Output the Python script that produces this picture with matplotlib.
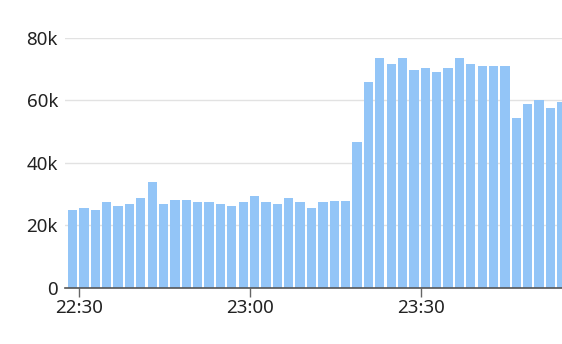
import matplotlib
matplotlib.use("Agg")
import matplotlib.pyplot as plt
import matplotlib.dates as mdates
import matplotlib.ticker as mticker
import pandas as pd

# one bar every 2 minutes, starting 22:28
start = "2024-01-01 22:28"
step_minutes = 2
counts = [
    24.9, 25.4, 24.9, 27.4, 26.1, 26.8, 28.6, 33.8, 26.8, 28.1,
    28.1, 27.4, 27.4, 26.8, 26.1, 27.4, 29.3, 27.4, 26.8, 28.6,
    27.3, 25.4, 27.3, 27.9, 27.9, 46.6, 65.8, 73.4, 71.5, 73.4,
    69.7, 70.2, 68.9, 70.2, 73.4, 71.5, 70.9, 70.9, 70.9, 54.3,
    58.8, 60.1, 57.5, 59.4,
]  # thousands
y_ticks = [0, 20000, 40000, 60000, 80000]

times = pd.date_range(start, periods=len(counts), freq=f"{step_minutes}min")
values = [c * 1000 for c in counts]

plt.rcParams["font.family"] = ["Noto Sans", "DejaVu Sans"]

fig = plt.figure(figsize=(5.62, 3.44), dpi=100)
ax = fig.add_axes([0.1157, 0.1637, 0.8843, 0.7267])

bar_w = pd.Timedelta(minutes=1.63)
ax.bar(times, values, width=bar_w, align="edge", color="#93c5f7", zorder=2)

ax.set_ylim(0, 80000)
ax.set_yticks(y_ticks)
ax.yaxis.set_major_formatter(
    mticker.FuncFormatter(lambda v, p: "0" if v == 0 else f"{int(v / 1000)}k"))
ax.grid(axis="y", color="#e2e2e2", linewidth=1, zorder=0)

x0 = pd.Timestamp("2024-01-01 22:27:30")
x1 = pd.Timestamp("2024-01-01 23:54:50")
ax.set_xlim(x0, x1)
ax.xaxis.set_major_locator(mdates.MinuteLocator(byminute=[0, 30]))
ax.xaxis.set_major_formatter(mdates.DateFormatter("%H:%M"))

for s in ["top", "right", "left"]:
    ax.spines[s].set_visible(False)
ax.spines["bottom"].set_color("#555555")
ax.spines["bottom"].set_linewidth(1.2)
ax.spines["bottom"].set_zorder(3)

ax.tick_params(axis="y", length=0, pad=5, labelsize=13.5, labelcolor="#222222")
ax.tick_params(axis="x", length=6.5, width=1, color="#666666", pad=2,
               labelsize=13.5, labelcolor="#222222")

fig.savefig("out.png", dpi=100)
